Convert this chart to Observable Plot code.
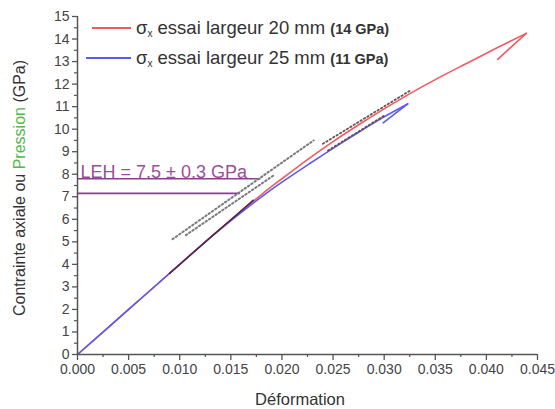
<!DOCTYPE html>
<html>
<head>
<meta charset="utf-8">
<script src="https://cdn.jsdelivr.net/npm/d3@7"></script>
<script src="https://cdn.jsdelivr.net/npm/@observablehq/plot@0.6"></script>
<style>
  html, body { margin: 0; padding: 0; background: #fff; }
  #chart { width: 555px; height: 409px; }
  svg text { font-family: "Liberation Sans", Arial, sans-serif; }
</style>
</head>
<body>
<div id="chart"></div>
<script>
// ---- data ----
const xTicks = [0, 0.005, 0.010, 0.015, 0.020, 0.025, 0.030, 0.035, 0.040, 0.045];
const yTicks = [0, 1, 2, 3, 4, 5, 6, 7, 8, 9, 10, 11, 12, 13, 14, 15];

// sigma_x, test width 20 mm (red) — loading path
const redStrain = [0, 0.005, 0.010, 0.013, 0.016, 0.018, 0.020, 0.0228, 0.025, 0.0277, 0.030, 0.0326, 0.035, 0.0382, 0.041, 0.0439];
const redStress = [0, 2.0, 4.0, 5.2, 6.35, 7.1, 7.8, 8.75, 9.45, 10.25, 10.9, 11.6, 12.2, 12.95, 13.6, 14.25];
// red unloading hook
const redUnloadStrain = [0.0439, 0.0411];
const redUnloadStress = [14.25, 13.1];

// sigma_x, test width 25 mm (blue) — loading path
const blueStrain = [0, 0.005, 0.010, 0.013, 0.016, 0.018, 0.020, 0.0228, 0.025, 0.0277, 0.030, 0.0323];
const blueStress = [0, 2.0, 4.0, 5.2, 6.3, 7.0, 7.65, 8.5, 9.15, 9.92, 10.55, 11.12];
// blue unloading hook
const blueUnloadStrain = [0.0323, 0.0299];
const blueUnloadStress = [11.12, 10.28];

// dark overlay on the linear part
const fitStrain = [0.009, 0.0172];
const fitStress = [3.6, 6.85];

// dotted tangent / fit lines
const dotA_x = [0.0093, 0.0231], dotA_y = [5.12, 9.5];
const dotB_x = [0.0106, 0.0192], dotB_y = [5.3, 7.95];
const dotC_x = [0.0240, 0.0325], dotC_y = [9.35, 11.7];
const dotD_x = [0.0245, 0.0300], dotD_y = [9.05, 10.6];

// LEH limits
const lehValues = [7.8, 7.15];
const lehEnds = [0.0179, 0.0159];
const lehLabel = "LEH = 7.5 ± 0.3 GPa";

const legendItems = [
  {text: " essai largeur 20 mm ", bold: "(14 GPa)", color: "#ef5a63"},
  {text: " essai largeur 25 mm ", bold: "(11 GPa)", color: "#5b5bef"}
];

// ---- build ----
const zip = (xs, ys) => xs.map((x, i) => ({x, y: ys[i]}));
const red = zip(redStrain, redStress);
const redU = zip(redUnloadStrain, redUnloadStress);
const blue = zip(blueStrain, blueStress);
const blueU = zip(blueUnloadStrain, blueUnloadStress);
const fit = zip(fitStrain, fitStress);
const dots = [zip(dotA_x, dotA_y), zip(dotB_x, dotB_y)];
const dotsDark = [zip(dotC_x, dotC_y), zip(dotD_x, dotD_y)];
const leh = lehValues.map((v, i) => ({y: v, x2: lehEnds[i]}));

const minorX = d3.range(0.0025, 0.045, 0.005);
const minorY = d3.range(0.5, 15, 1);
const axisColor = "#555";

const plot = Plot.plot({
  width: 555,
  height: 409,
  marginLeft: 77,
  marginRight: 18,
  marginTop: 16,
  marginBottom: 55,
  x: {domain: [0, 0.045]},
  y: {domain: [0, 15]},
  style: {fontFamily: "Liberation Sans, Arial, sans-serif", color: "#444", background: "#fff"},
  marks: [
    // LEH lines
    Plot.link(leh, {x1: 0, x2: "x2", y1: "y", y2: "y", stroke: "#8a3f8c", strokeWidth: 1.6}),
    Plot.text([lehLabel], {x: 0.0003, y: 7.83, text: d => d, textAnchor: "start", lineAnchor: "bottom", fill: "#9a4e9c", fontSize: 18}),
    // dotted lines
    ...dots.map(d => Plot.line(d, {x: "x", y: "y", stroke: "#7a7a7a", strokeWidth: 2, strokeDasharray: "1.5,2.5"})),
    // curves
    Plot.line(red, {x: "x", y: "y", stroke: "#ef5a63", strokeWidth: 1.6, curve: "catmull-rom"}),
    Plot.line(redU, {x: "x", y: "y", stroke: "#ef5a63", strokeWidth: 1.6}),
    Plot.line(blue, {x: "x", y: "y", stroke: "#5b5bef", strokeWidth: 1.6, curve: "catmull-rom"}),
    Plot.line(blueU, {x: "x", y: "y", stroke: "#5b5bef", strokeWidth: 1.6}),
    Plot.line(fit, {x: "x", y: "y", stroke: "#5a2238", strokeWidth: 1.4}),
    ...dotsDark.map(d => Plot.line(d, {x: "x", y: "y", stroke: "#6a5050", strokeWidth: 1.8, strokeDasharray: "1.5,2.5"})),
    // axes
    Plot.ruleY([0], {stroke: axisColor, strokeWidth: 1.5}),
    Plot.ruleX([0], {stroke: axisColor, strokeWidth: 1.5}),
    Plot.axisX({ticks: xTicks, tickFormat: d3.format(".3f"), tickSize: 6, tickPadding: 4, fontSize: 14, stroke: axisColor, strokeWidth: 1.3, label: null, fill: "#444"}),
    Plot.axisX({ticks: minorX, text: null, tickSize: 3, stroke: axisColor, strokeWidth: 1.2, label: null}),
    Plot.axisY({ticks: yTicks, tickSize: 5, tickPadding: 3, fontSize: 14, stroke: axisColor, strokeWidth: 1.3, label: null, fill: "#444"}),
    Plot.axisY({ticks: minorY, text: null, tickSize: 3, stroke: axisColor, strokeWidth: 1.2, label: null})
  ]
});

document.getElementById("chart").appendChild(plot);
const svg = d3.select(plot);

// x label
svg.append("text").attr("x", 300).attr("y", 405).attr("text-anchor", "middle")
  .attr("font-size", 16.5).attr("fill", "#333").text("Déformation");

// y label with coloured word
const yl = svg.append("text").attr("transform", "translate(25,188) rotate(-90)")
  .attr("text-anchor", "middle").attr("font-size", 16).attr("fill", "#333");
yl.append("tspan").text("Contrainte axiale ou ");
yl.append("tspan").attr("fill", "#55b84a").text("Pression");
yl.append("tspan").text(" (GPa)");

// legend
legendItems.forEach((it, i) => {
  const y = 28 + i * 30;
  svg.append("line").attr("x1", i === 0 ? 92 : 86).attr("x2", 131).attr("y1", y).attr("y2", y)
    .attr("stroke", it.color).attr("stroke-width", 1.8);
  const t = svg.append("text").attr("x", 136).attr("y", y + 6).attr("text-anchor", "start")
    .attr("font-size", 18.5).attr("fill", "#333");
  t.append("tspan").text("σ");
  t.append("tspan").attr("font-size", 10).attr("dy", 3).text("x");
  t.append("tspan").attr("dy", -3).text(it.text);
  t.append("tspan").attr("font-size", 14.5).attr("font-weight", "bold").text(it.bold);
});
</script>
</body>
</html>
